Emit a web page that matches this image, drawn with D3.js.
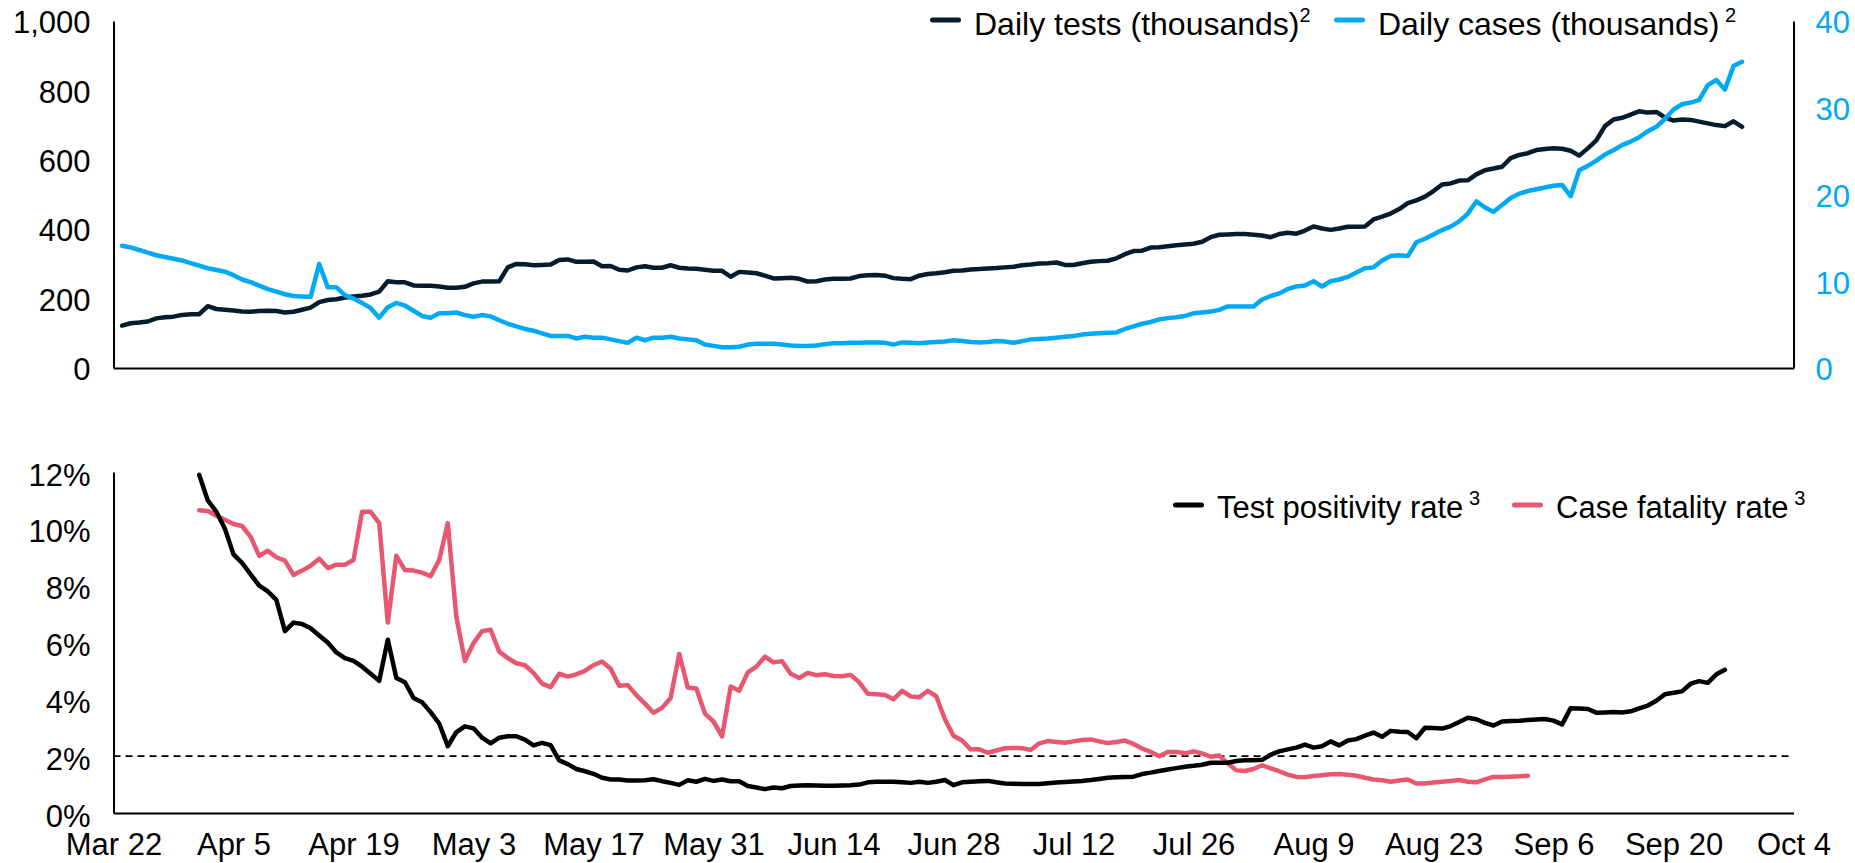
<!DOCTYPE html>
<html>
<head>
<meta charset="utf-8">
<script src="https://cdn.jsdelivr.net/npm/d3@7"></script>
<style>
  body { margin: 0; background: #fff; }
  svg { display: block; font-family: "Liberation Sans", Arial, sans-serif; }
  .axis text { font-size: 31px; fill: #000; }
  .axis path { stroke: #000; stroke-width: 2px; }
  .legend text { fill: #000; }
</style>
</head>
<body>
<script>
// daily values, first point on testsStart, one value per day
var testsStart = "2020-03-23";
var dailyTests = [
  122,129,131,134,143,146,148,153,155,155,
  178,170,168,166,163,162,164,165,164,160,
  162,168,174,190,196,198,203,206,208,212,
  220,250,247,247,238,237,237,235,231,231,
  234,244,249,249,250,290,300,299,296,297,
  298,311,313,306,306,307,293,294,283,281,
  290,293,289,289,296,289,287,286,283,280,
  280,263,277,275,273,266,258,259,260,257,
  249,250,255,257,257,258,265,267,268,266,
  259,257,256,266,271,273,276,280,281,284,
  285,287,288,290,292,296,298,301,302,304,
  297,297,302,306,308,309,316,328,337,338,
  347,348,351,354,356,358,364,377,384,385,
  386,386,384,382,377,386,390,387,396,408,
  402,398,402,407,407,408,428,436,445,458,
  475,483,494,510,529,532,540,541,558,570,
  575,580,605,614,619,628,631,633,632,626,
  612,633,656,697,716,721,730,740,736,738,
  722,713,716,715,710,705,700,697,711,695
];
var dailyCases = [
  14.1,13.9,13.6,13.3,13.0,12.8,12.6,12.4,12.1,11.8,
  11.5,11.3,11.1,10.7,10.2,9.9,9.5,9.1,8.8,8.5,
  8.3,8.25,8.2,12.0,9.3,9.3,8.4,8.0,7.5,6.9,
  5.8,7.0,7.5,7.2,6.6,6.0,5.8,6.3,6.3,6.4,
  6.1,5.9,6.1,5.95,5.5,5.1,4.8,4.5,4.3,4.0,
  3.7,3.7,3.7,3.4,3.6,3.5,3.5,3.3,3.1,2.9,
  3.5,3.2,3.5,3.5,3.6,3.4,3.3,3.2,2.7,2.55,
  2.4,2.4,2.45,2.7,2.8,2.8,2.8,2.7,2.6,2.55,
  2.55,2.6,2.75,2.85,2.85,2.9,2.9,2.95,2.95,2.9,
  2.7,2.95,2.9,2.85,2.95,3.0,3.05,3.2,3.1,3.0,
  2.95,3.0,3.1,3.05,2.9,3.1,3.3,3.35,3.4,3.5,
  3.6,3.7,3.85,3.95,4.0,4.05,4.1,4.5,4.8,5.1,
  5.3,5.6,5.75,5.85,6.0,6.3,6.4,6.5,6.7,7.1,
  7.1,7.1,7.1,7.9,8.3,8.6,9.1,9.4,9.5,10.0,
  9.4,10.0,10.2,10.5,11.0,11.5,11.6,12.4,12.9,13.0,
  12.9,14.5,14.9,15.4,15.9,16.3,16.9,17.8,19.2,18.5,
  18.0,18.8,19.6,20.1,20.4,20.6,20.8,21.0,21.1,19.8,
  22.8,23.3,23.9,24.6,25.1,25.7,26.1,26.6,27.3,27.8,
  28.7,29.8,30.4,30.6,30.9,32.6,33.2,32.1,34.8,35.3
];

// rates in percent, first point on ratesStart
var ratesStart = "2020-04-01";
var positivityRate = [
  11.9,11.0,10.6,10.0,9.1,8.8,8.4,8.0,7.8,7.5,
  6.4,6.7,6.65,6.5,6.25,6.0,5.65,5.45,5.35,5.15,
  4.9,4.65,6.1,4.75,4.6,4.05,3.9,3.55,3.15,2.35,
  2.85,3.05,2.98,2.65,2.45,2.65,2.7,2.7,2.58,2.38,
  2.47,2.39,1.85,1.72,1.55,1.47,1.38,1.24,1.18,1.18,
  1.14,1.14,1.15,1.19,1.12,1.06,0.99,1.15,1.1,1.2,
  1.13,1.18,1.12,1.12,0.95,0.9,0.84,0.9,0.87,0.95,
  0.97,0.98,0.97,0.96,0.96,0.97,0.98,1.0,1.08,1.1,
  1.1,1.1,1.08,1.06,1.1,1.06,1.1,1.16,0.98,1.08,
  1.1,1.12,1.13,1.08,1.04,1.03,1.02,1.02,1.02,1.05,
  1.07,1.09,1.11,1.13,1.16,1.2,1.24,1.26,1.27,1.28,
  1.37,1.42,1.48,1.53,1.58,1.63,1.66,1.7,1.77,1.77,
  1.77,1.83,1.86,1.86,1.87,2.05,2.17,2.24,2.3,2.41,
  2.3,2.35,2.52,2.38,2.55,2.6,2.72,2.83,2.68,2.89,
  2.86,2.85,2.63,3.0,2.99,2.97,3.06,3.2,3.35,3.3,
  3.17,3.08,3.22,3.24,3.25,3.27,3.29,3.31,3.25,3.12,
  3.69,3.68,3.66,3.53,3.54,3.55,3.54,3.58,3.68,3.78,
  3.95,4.18,4.23,4.28,4.55,4.64,4.58,4.88,5.04
];
var fatalityRate = [
  10.65,10.63,10.46,10.32,10.17,10.1,9.72,9.05,9.23,9.0,
  8.88,8.38,8.53,8.7,8.95,8.62,8.74,8.74,8.9,10.6,
  10.6,10.2,6.7,9.05,8.55,8.53,8.46,8.33,8.9,10.2,
  6.9,5.35,5.98,6.4,6.45,5.68,5.45,5.27,5.2,4.93,
  4.55,4.43,4.9,4.8,4.88,5.0,5.2,5.33,5.08,4.48,
  4.5,4.15,3.85,3.53,3.7,4.05,5.6,4.42,4.38,3.5,
  3.22,2.7,4.45,4.3,4.95,5.15,5.5,5.3,5.34,4.9,
  4.75,4.93,4.85,4.88,4.82,4.81,4.86,4.6,4.2,4.18,
  4.15,4.0,4.3,4.1,4.07,4.3,4.1,3.3,2.72,2.55,
  2.24,2.24,2.12,2.2,2.28,2.29,2.28,2.22,2.45,2.53,
  2.5,2.47,2.52,2.57,2.59,2.52,2.46,2.5,2.55,2.43,
  2.27,2.15,2.0,2.15,2.15,2.1,2.17,2.1,1.98,2.02,
  1.75,1.5,1.48,1.55,1.68,1.57,1.47,1.35,1.27,1.26,
  1.3,1.33,1.36,1.37,1.35,1.31,1.24,1.18,1.15,1.1,
  1.14,1.18,1.04,1.04,1.07,1.1,1.13,1.16,1.1,1.08,
  1.18,1.27,1.27,1.28,1.29,1.31
];

var thresholdRate = 2;

var dateDomain = ["2020-03-22", "2020-10-04"];
var testsTicks = [0, 200, 400, 600, 800, 1000];
var casesTicks = [0, 10, 20, 30, 40];
var rateTicks = [0, 2, 4, 6, 8, 10, 12];

var colors = {
  tests: "#051c2c",
  cases: "#00a9f4",
  positivity: "#000000",
  fatality: "#e8566f"
};

var width = 1855,
    height = 863;

var parse = d3.utcParse("%Y-%m-%d");

function toSeries(start, values) {
  var t0 = parse(start);
  return values.map(function(v, i) {
    return { date: d3.utcDay.offset(t0, i), value: v };
  });
}

var svg = d3.select("body")
  .append("svg")
  .attr("width", width)
  .attr("height", height);

var x = d3.scaleUtc()
    .domain(dateDomain.map(parse))
    .range([113.5, 1793.5]);

var yTests = d3.scaleLinear().domain([0, 1000]).range([368, 21]);
var yCases = d3.scaleLinear().domain([0, 40]).range([368, 21]);
var yRate = d3.scaleLinear().domain([0, 12]).range([813, 472]);

var xTicks = d3.utcDay.range(x.domain()[0], d3.utcDay.offset(x.domain()[1], 1), 14);

// ---- top panel: tests and cases
svg.append("g")
    .attr("class", "axis")
    .attr("transform", "translate(113.5,0)")
    .call(d3.axisLeft(yTests).tickValues(testsTicks).tickSize(0).tickSizeOuter(0)
      .tickPadding(23).tickFormat(d3.format(",")))
    .selectAll("text").attr("dy", "0.38em");

svg.append("g")
    .attr("class", "axis")
    .attr("transform", "translate(1793.5,0)")
    .call(d3.axisRight(yCases).tickValues(casesTicks).tickSize(0).tickSizeOuter(0)
      .tickPadding(22))
    .selectAll("text").attr("dy", "0.38em").style("fill", colors.cases);

svg.append("g")
    .attr("class", "axis")
    .attr("transform", "translate(0,368)")
    .call(d3.axisBottom(x).tickValues([]).tickSizeOuter(0));

var testsLine = d3.line()
    .x(function(d) { return x(d.date); })
    .y(function(d) { return yTests(d.value); });
var casesLine = d3.line()
    .x(function(d) { return x(d.date); })
    .y(function(d) { return yCases(d.value); });

svg.append("path")
    .datum(toSeries(testsStart, dailyTests))
    .attr("fill", "none")
    .attr("stroke", colors.tests)
    .attr("stroke-width", 4.5)
    .attr("stroke-linejoin", "round")
    .attr("stroke-linecap", "round")
    .attr("d", testsLine);

svg.append("path")
    .datum(toSeries(testsStart, dailyCases))
    .attr("fill", "none")
    .attr("stroke", colors.cases)
    .attr("stroke-width", 4.5)
    .attr("stroke-linejoin", "round")
    .attr("stroke-linecap", "round")
    .attr("d", casesLine);

// ---- bottom panel: rates
svg.append("g")
    .attr("class", "axis")
    .attr("transform", "translate(113.5,0)")
    .call(d3.axisLeft(yRate).tickValues(rateTicks).tickSize(0).tickSizeOuter(0)
      .tickPadding(23).tickFormat(function(d) { return d + "%"; }))
    .selectAll("text").attr("dy", "0.42em");

svg.append("g")
    .attr("class", "axis")
    .attr("transform", "translate(0,813)")
    .call(d3.axisBottom(x).tickValues(xTicks).tickSize(0).tickSizeOuter(0)
      .tickPadding(20).tickFormat(d3.utcFormat("%b %-d")));

svg.append("line")
    .attr("x1", x.range()[0])
    .attr("x2", x.range()[1])
    .attr("y1", yRate(thresholdRate))
    .attr("y2", yRate(thresholdRate))
    .attr("stroke", "#000")
    .attr("stroke-width", 1.6)
    .attr("stroke-dasharray", "7,5");

var rateLine = d3.line()
    .x(function(d) { return x(d.date); })
    .y(function(d) { return yRate(d.value); });

svg.append("path")
    .datum(toSeries(ratesStart, fatalityRate))
    .attr("fill", "none")
    .attr("stroke", colors.fatality)
    .attr("stroke-width", 4.5)
    .attr("stroke-linejoin", "round")
    .attr("stroke-linecap", "round")
    .attr("d", rateLine);

svg.append("path")
    .datum(toSeries(ratesStart, positivityRate))
    .attr("fill", "none")
    .attr("stroke", colors.positivity)
    .attr("stroke-width", 4.5)
    .attr("stroke-linejoin", "round")
    .attr("stroke-linecap", "round")
    .attr("d", rateLine);

// ---- legends
function legendItem(g, x0, yMark, yText, color, label, sup, size) {
  g.append("line")
      .attr("x1", x0 + 2.5).attr("x2", x0 + 28.5)
      .attr("y1", yMark).attr("y2", yMark)
      .attr("stroke", color)
      .attr("stroke-width", 5)
      .attr("stroke-linecap", "round");
  var t = g.append("text")
      .attr("x", x0 + 44)
      .attr("y", yText)
      .style("font-size", size + "px")
      .text(label);
  t.append("tspan")
      .attr("dy", -13)
      .style("font-size", "20px")
      .text(sup);
}

var legendTop = svg.append("g").attr("class", "legend");
legendItem(legendTop, 930, 20, 35, colors.tests, "Daily tests (thousands)", "2", 32);
legendItem(legendTop, 1334, 20, 35, colors.cases, "Daily cases (thousands)", "\u00a02", 32);

var legendBottom = svg.append("g").attr("class", "legend");
legendItem(legendBottom, 1173, 505, 518, colors.positivity, "Test positivity rate", "\u00a03", 31);
legendItem(legendBottom, 1512, 505, 518, colors.fatality, "Case fatality rate", "\u00a03", 31);
</script>
</body>
</html>
